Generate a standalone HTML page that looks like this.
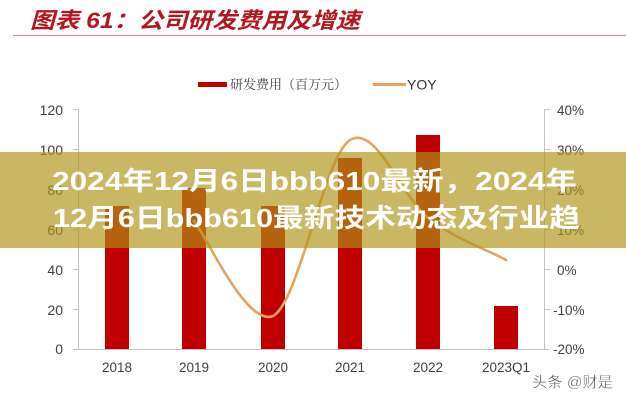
<!DOCTYPE html>
<html>
<head>
<meta charset="utf-8">
<style>
  html,body{margin:0;padding:0;background:#fff;}
  body{width:626px;height:400px;overflow:hidden;}
  svg{display:block;}
</style>
</head>
<body>
<svg width="626" height="400" viewBox="0 0 626 400" xmlns="http://www.w3.org/2000/svg">
  <rect x="0" y="0" width="626" height="400" fill="#ffffff"/>

  <!-- Title -->
  <text x="30" y="28" font-family="'Liberation Sans','Noto Sans CJK SC',sans-serif" font-size="22" font-weight="bold" font-style="italic" fill="#b3161d" textLength="330" lengthAdjust="spacingAndGlyphs">图表 61：公司研发费用及增速</text>
  <line x1="13" y1="35.5" x2="626" y2="35.5" stroke="#b99a9c" stroke-width="1.2"/>

  <!-- Legend -->
  <rect x="198" y="82" width="29" height="5" fill="#c00000"/>
  <text x="230" y="89" font-family="'Liberation Serif','Noto Serif CJK SC',serif" font-size="13" fill="#444" textLength="117" lengthAdjust="spacingAndGlyphs">研发费用（百万元）</text>
  <line x1="373" y1="84.5" x2="406" y2="84.5" stroke="#e8a25e" stroke-width="3"/>
  <text x="407" y="89.5" font-family="'Liberation Sans',sans-serif" font-size="14" fill="#333">YOY</text>

  <!-- Axes -->
  <g stroke="#c3c3c3" stroke-width="1">
    <line x1="78.5" y1="109" x2="78.5" y2="349"/>
    <line x1="544.5" y1="109" x2="544.5" y2="349"/>
    <line x1="73" y1="349.5" x2="549" y2="349.5"/>
    <!-- left ticks -->
    <line x1="73" y1="109.5" x2="78" y2="109.5"/>
    <line x1="73" y1="149.5" x2="78" y2="149.5"/>
    <line x1="73" y1="189.5" x2="78" y2="189.5"/>
    <line x1="73" y1="229.5" x2="78" y2="229.5"/>
    <line x1="73" y1="269.5" x2="78" y2="269.5"/>
    <line x1="73" y1="309.5" x2="78" y2="309.5"/>
    <!-- right ticks -->
    <line x1="545" y1="109.5" x2="550" y2="109.5"/>
    <line x1="545" y1="149.5" x2="550" y2="149.5"/>
    <line x1="545" y1="189.5" x2="550" y2="189.5"/>
    <line x1="545" y1="229.5" x2="550" y2="229.5"/>
    <line x1="545" y1="269.5" x2="550" y2="269.5"/>
    <line x1="545" y1="309.5" x2="550" y2="309.5"/>
  </g>

  <!-- Left labels -->
  <g font-family="'Liberation Sans',sans-serif" font-size="14" fill="#404040" text-anchor="end">
    <text x="63" y="115">120</text>
    <text x="63" y="155">100</text>
    <text x="63" y="195">80</text>
    <text x="63" y="235">60</text>
    <text x="63" y="275">40</text>
    <text x="63" y="315">20</text>
    <text x="63" y="354">0</text>
  </g>

  <!-- Right labels -->
  <g font-family="'Liberation Sans',sans-serif" font-size="13.5" fill="#404040">
    <text x="557" y="115">40%</text>
    <text x="557" y="155">30%</text>
    <text x="557" y="195">20%</text>
    <text x="557" y="235">10%</text>
    <text x="557" y="275">0%</text>
    <text x="553" y="315">-10%</text>
    <text x="553" y="354">-20%</text>
  </g>

  <!-- Bars -->
  <g fill="#c00000">
    <rect x="105" y="206" width="24" height="143"/>
    <rect x="182" y="188" width="24" height="161"/>
    <rect x="261" y="206" width="24" height="143"/>
    <rect x="338" y="158" width="24" height="191"/>
    <rect x="416" y="135" width="24" height="214"/>
    <rect x="494" y="306" width="24" height="43"/>
  </g>

  <!-- YOY line -->
  <path d="M194,221 C207,237 246.7,327 273,316 C299,302.5 324.2,156.3 350,140 C375.8,124 402,197 428,218 C454,239 493,252 506,260"
        fill="none" stroke="#e8a25e" stroke-width="2.6" stroke-linecap="round"/>

  <!-- X labels -->
  <g font-family="'Liberation Sans',sans-serif" font-size="13.5" fill="#404040" text-anchor="middle">
    <text x="117" y="372">2018</text>
    <text x="194" y="372">2019</text>
    <text x="273" y="372">2020</text>
    <text x="350" y="372">2021</text>
    <text x="428" y="372">2022</text>
    <text x="506" y="372">2023Q1</text>
  </g>

  <!-- Watermark -->
  <text x="532" y="387" font-family="'Liberation Sans','Noto Sans CJK SC',sans-serif" font-size="15" fill="#4a4a4a" stroke="#ffffff" stroke-width="0.4" textLength="81" lengthAdjust="spacingAndGlyphs">头条 @财是</text>

  <!-- Banner overlay -->
  <rect x="0" y="152" width="626" height="96" fill="rgb(176,148,22)" fill-opacity="0.67"/>
  <g font-family="'Liberation Sans','Noto Sans CJK SC',sans-serif" font-size="26" font-weight="bold" fill="#ffffff">
    <text x="52" y="190" textLength="525" lengthAdjust="spacingAndGlyphs">2024年12月6日bbb610最新，2024年</text>
    <text x="53" y="227" textLength="527" lengthAdjust="spacingAndGlyphs">12月6日bbb610最新技术动态及行业趋</text>
  </g>
</svg>
</body>
</html>
